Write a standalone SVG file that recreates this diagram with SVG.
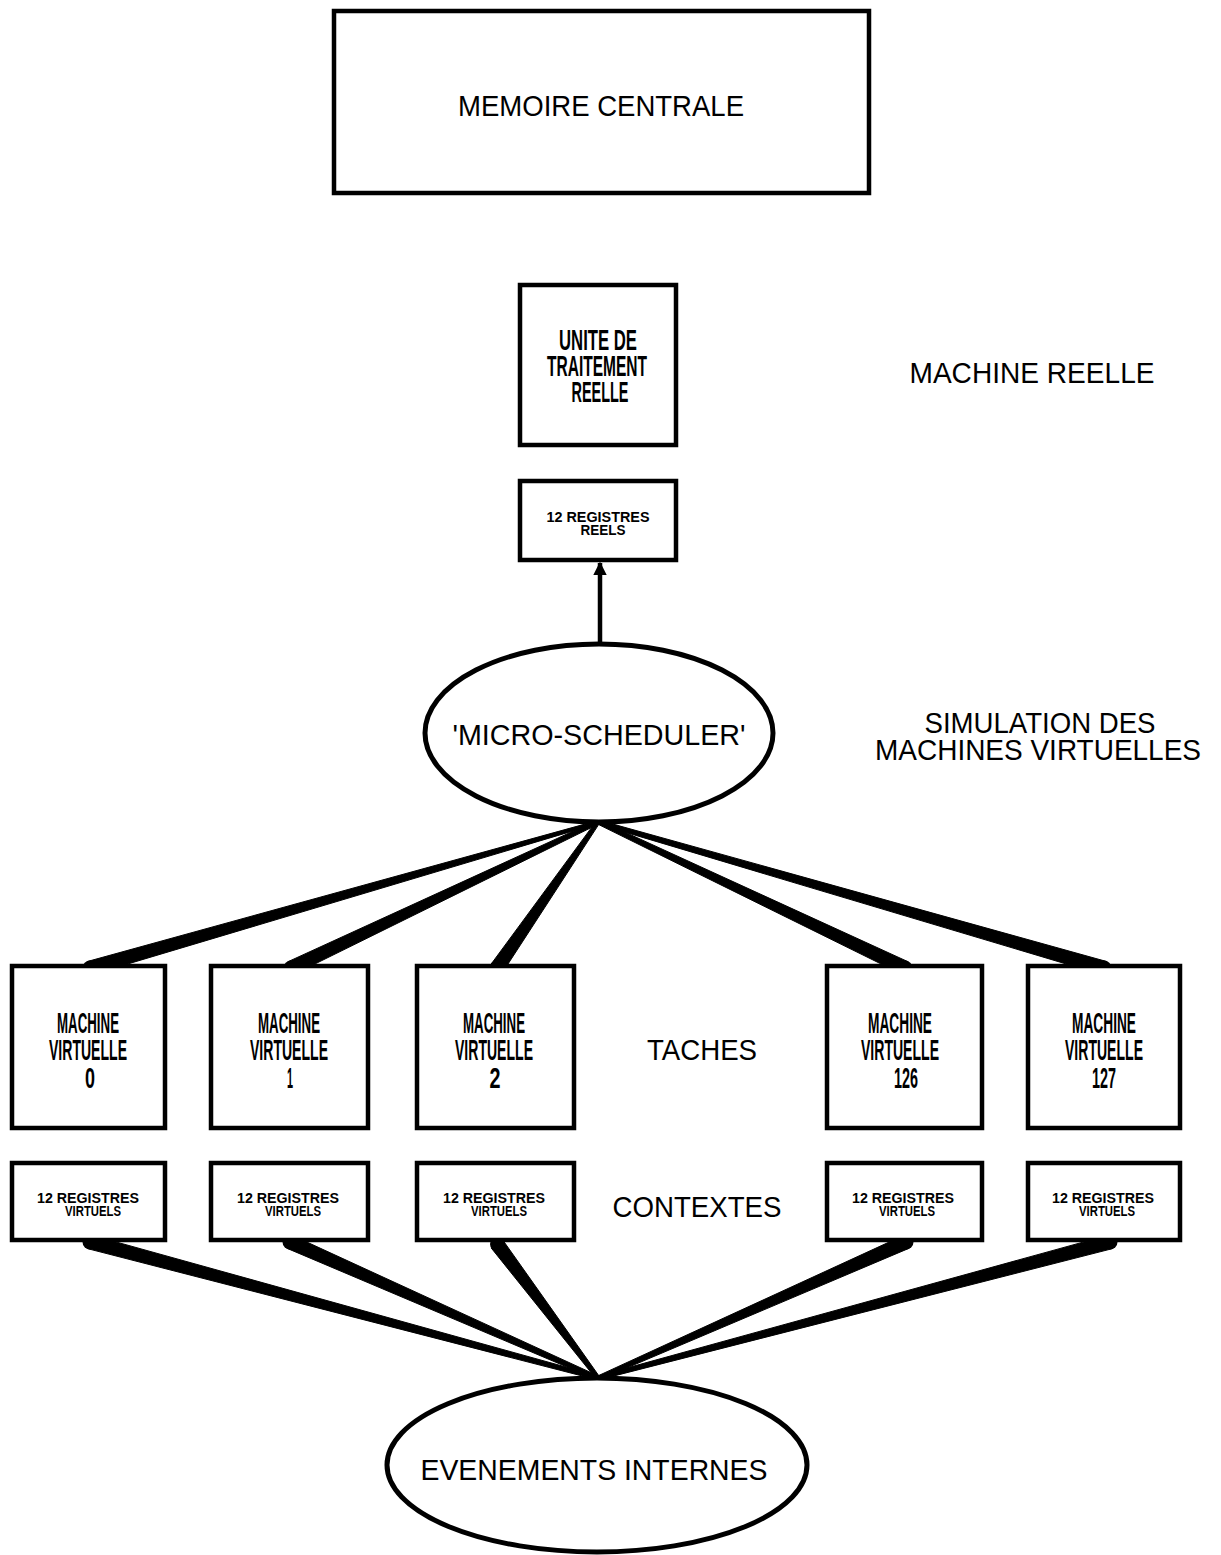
<svg xmlns="http://www.w3.org/2000/svg" width="1221" height="1555" viewBox="0 0 1221 1555">
<defs>
<style>
.box{fill:#fff;stroke:#000;stroke-width:4.5}
.ell{fill:#fff;stroke:#000;stroke-width:5}
.big{font-family:"Liberation Sans",Arial,sans-serif;font-size:30px;fill:#000;text-anchor:middle}
.cond{font-family:"Liberation Sans",Arial,sans-serif;font-weight:bold;font-size:29px;fill:#000;text-anchor:middle}
.tiny{font-family:"Liberation Sans",Arial,sans-serif;font-weight:bold;font-size:14px;fill:#000;text-anchor:middle}
.wedge{fill:#000;stroke:#000;stroke-width:1;stroke-linejoin:round}
</style>
<marker id="arr" viewBox="0 0 10 10" refX="9" refY="5" markerWidth="3" markerHeight="3" orient="auto">
<path d="M0,0 L10,5 L0,10 z" fill="#000"/>
</marker>
</defs>
<rect width="1221" height="1555" fill="#fff"/>

<g id="connectors">
<line x1="600" y1="643" x2="600" y2="563" stroke="#000" stroke-width="4.5" marker-end="url(#arr)"/>
<polygon class="wedge" points="88.1,961.3 597.6,820.6 598.4,823.4 91.9,974.7"/>
<circle cx="90" cy="968" r="7.5"/>
<polygon class="wedge" points="288.0,961.7 597.1,820.2 598.9,823.8 294.0,974.3"/>
<circle cx="291" cy="968" r="7.5"/>
<polygon class="wedge" points="491.2,964.0 596.4,820.9 599.6,823.1 502.8,972.0"/>
<circle cx="497" cy="968" r="7.5"/>
<polygon class="wedge" points="908.0,961.7 598.9,820.2 597.1,823.8 902.0,974.3"/>
<circle cx="905" cy="968" r="7.5"/>
<polygon class="wedge" points="1105.9,961.3 598.6,820.1 597.4,823.9 1102.1,974.7"/>
<circle cx="1104" cy="968" r="7.5"/>

<polygon class="wedge" points="88.2,1248.8 597.5,1379.9 598.5,1376.1 91.8,1235.2"/>
<circle cx="90" cy="1242" r="7.5"/>
<polygon class="wedge" points="287.2,1248.4 597.2,1379.8 598.8,1376.2 292.8,1235.6"/>
<circle cx="290" cy="1242" r="7.5"/>
<polygon class="wedge" points="491.4,1248.2 596.4,1379.2 599.6,1376.8 502.6,1239.8"/>
<circle cx="497" cy="1244" r="7"/>
<polygon class="wedge" points="903.2,1235.6 597.2,1376.2 598.8,1379.8 908.8,1248.4"/>
<circle cx="906" cy="1242" r="7.5"/>
<polygon class="wedge" points="1108.2,1235.2 597.5,1376.1 598.5,1379.9 1111.8,1248.8"/>
<circle cx="1110" cy="1242" r="7.5"/>
</g>

<g id="memoire">
<rect class="box" x="334" y="11" width="535" height="182"/>
<text class="big" x="601" y="116" font-size="32" textLength="286" lengthAdjust="spacingAndGlyphs">MEMOIRE CENTRALE</text>
</g>

<g id="unite">
<rect class="box" x="520" y="285" width="156" height="160"/>
<text class="cond" x="598" y="350" textLength="78" lengthAdjust="spacingAndGlyphs">UNITE DE</text>
<text class="cond" x="597" y="376" textLength="100" lengthAdjust="spacingAndGlyphs">TRAITEMENT</text>
<text class="cond" x="600" y="402" textLength="57" lengthAdjust="spacingAndGlyphs">REELLE</text>
</g>

<g id="registres-reels">
<rect class="box" x="520" y="481" width="156" height="79"/>
<text class="tiny" x="598" y="522" textLength="103" lengthAdjust="spacingAndGlyphs">12 REGISTRES</text>
<text class="tiny" x="603" y="535" textLength="45" lengthAdjust="spacingAndGlyphs">REELS</text>
</g>

<g id="label-machine-reelle">
<text class="big" x="1032" y="383" textLength="245" lengthAdjust="spacingAndGlyphs">MACHINE REELLE</text>
</g>

<g id="micro-scheduler">
<ellipse class="ell" cx="599" cy="733" rx="174" ry="89"/>
<text class="big" x="599" y="745" textLength="293" lengthAdjust="spacingAndGlyphs">'MICRO-SCHEDULER'</text>
</g>

<g id="label-simulation">
<text class="big" x="1040" y="733" textLength="231" lengthAdjust="spacingAndGlyphs">SIMULATION DES</text>
<text class="big" x="1038" y="760" textLength="326" lengthAdjust="spacingAndGlyphs">MACHINES VIRTUELLES</text>
</g>

<g id="mv0">
<rect class="box" x="12" y="966" width="153" height="162"/>
<text class="cond" x="88" y="1033" textLength="62" lengthAdjust="spacingAndGlyphs">MACHINE</text>
<text class="cond" x="88" y="1060" textLength="78" lengthAdjust="spacingAndGlyphs">VIRTUELLE</text>
<text class="cond" x="90" y="1088" textLength="10" lengthAdjust="spacingAndGlyphs">0</text>
</g>
<g id="mv1">
<rect class="box" x="211" y="966" width="157" height="162"/>
<text class="cond" x="289" y="1033" textLength="62" lengthAdjust="spacingAndGlyphs">MACHINE</text>
<text class="cond" x="289" y="1060" textLength="78" lengthAdjust="spacingAndGlyphs">VIRTUELLE</text>
<text class="cond" x="290" y="1088" textLength="6" lengthAdjust="spacingAndGlyphs">1</text>
</g>
<g id="mv2">
<rect class="box" x="417" y="966" width="157" height="162"/>
<text class="cond" x="494" y="1033" textLength="62" lengthAdjust="spacingAndGlyphs">MACHINE</text>
<text class="cond" x="494" y="1060" textLength="78" lengthAdjust="spacingAndGlyphs">VIRTUELLE</text>
<text class="cond" x="495" y="1088" textLength="11" lengthAdjust="spacingAndGlyphs">2</text>
</g>
<g id="label-taches">
<text class="big" x="702" y="1060" textLength="110" lengthAdjust="spacingAndGlyphs">TACHES</text>
</g>
<g id="mv126">
<rect class="box" x="827" y="966" width="155" height="162"/>
<text class="cond" x="900" y="1033" textLength="64" lengthAdjust="spacingAndGlyphs">MACHINE</text>
<text class="cond" x="900" y="1060" textLength="78" lengthAdjust="spacingAndGlyphs">VIRTUELLE</text>
<text class="cond" x="906" y="1088" textLength="24" lengthAdjust="spacingAndGlyphs">126</text>
</g>
<g id="mv127">
<rect class="box" x="1028" y="966" width="152" height="162"/>
<text class="cond" x="1104" y="1033" textLength="64" lengthAdjust="spacingAndGlyphs">MACHINE</text>
<text class="cond" x="1104" y="1060" textLength="78" lengthAdjust="spacingAndGlyphs">VIRTUELLE</text>
<text class="cond" x="1104" y="1088" textLength="24" lengthAdjust="spacingAndGlyphs">127</text>
</g>

<g id="rv0">
<rect class="box" x="12" y="1163" width="153" height="77"/>
<text class="tiny" x="88" y="1203" textLength="102" lengthAdjust="spacingAndGlyphs">12 REGISTRES</text>
<text class="tiny" x="93" y="1216" textLength="56" lengthAdjust="spacingAndGlyphs">VIRTUELS</text>
</g>
<g id="rv1">
<rect class="box" x="211" y="1163" width="157" height="77"/>
<text class="tiny" x="288" y="1203" textLength="102" lengthAdjust="spacingAndGlyphs">12 REGISTRES</text>
<text class="tiny" x="293" y="1216" textLength="56" lengthAdjust="spacingAndGlyphs">VIRTUELS</text>
</g>
<g id="rv2">
<rect class="box" x="417" y="1163" width="157" height="77"/>
<text class="tiny" x="494" y="1203" textLength="102" lengthAdjust="spacingAndGlyphs">12 REGISTRES</text>
<text class="tiny" x="499" y="1216" textLength="56" lengthAdjust="spacingAndGlyphs">VIRTUELS</text>
</g>
<g id="label-contextes">
<text class="big" x="697" y="1217" textLength="169" lengthAdjust="spacingAndGlyphs">CONTEXTES</text>
</g>
<g id="rv126">
<rect class="box" x="827" y="1163" width="155" height="77"/>
<text class="tiny" x="903" y="1203" textLength="102" lengthAdjust="spacingAndGlyphs">12 REGISTRES</text>
<text class="tiny" x="907" y="1216" textLength="56" lengthAdjust="spacingAndGlyphs">VIRTUELS</text>
</g>
<g id="rv127">
<rect class="box" x="1028" y="1163" width="152" height="77"/>
<text class="tiny" x="1103" y="1203" textLength="102" lengthAdjust="spacingAndGlyphs">12 REGISTRES</text>
<text class="tiny" x="1107" y="1216" textLength="56" lengthAdjust="spacingAndGlyphs">VIRTUELS</text>
</g>

<g id="evenements">
<ellipse class="ell" cx="597" cy="1465" rx="210" ry="87"/>
<text class="big" x="594" y="1480" textLength="347" lengthAdjust="spacingAndGlyphs">EVENEMENTS INTERNES</text>
</g>
</svg>
